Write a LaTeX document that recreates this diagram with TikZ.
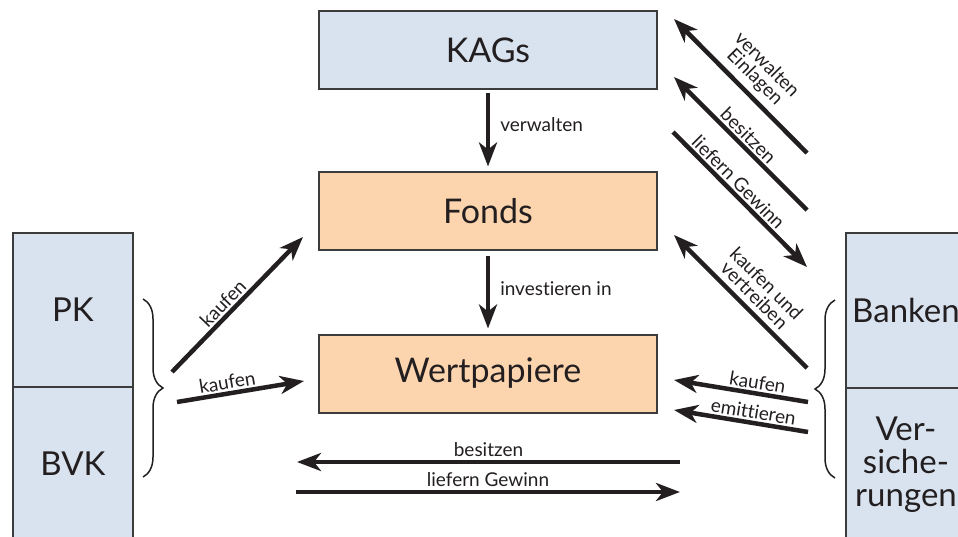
\documentclass[tikz,border=0pt]{standalone}
\usepackage{fontspec}
\setmainfont{Lato}[Ligatures=NoCommon]
\usetikzlibrary{arrows.meta,decorations.pathreplacing,calc}
\definecolor{boxblue}{RGB}{217,227,239}
\definecolor{boxorange}{RGB}{252,213,175}
\definecolor{ink}{RGB}{35,31,32}
\definecolor{frame}{RGB}{60,60,60}
\begin{document}
\begin{tikzpicture}[x=1pt,y=-1pt,
  box/.style={draw=frame,line width=2pt,minimum width=338pt,minimum height=78pt,inner sep=0pt,font=\fontsize{34}{36}\selectfont,text=ink},
  side/.style={draw=frame,line width=2pt,fill=boxblue,minimum width=120pt,minimum height=154pt,inner sep=0pt,font=\fontsize{33}{33}\selectfont,text=ink,align=center},
  arr/.style={draw=ink,line width=4.5pt,-{Stealth[length=24pt,width=18pt,inset=7pt]}},
  lbl/.style={font=\fontsize{19}{17}\selectfont,text=ink,inner sep=2pt},
  brc/.style={decorate,decoration={brace,amplitude=20pt},line width=1.5pt,draw=ink}]
\clip (0,0) rectangle (958,537);
\fill[white] (0,0) rectangle (958,537);
% main boxes
\node[box,fill=boxblue]   (kag)  at (488,50)    {KAGs};
\node[box,fill=boxorange] (fond) at (488,211.5) {Fonds};
\node[box,fill=boxorange] (wp)   at (488,373.5) {Wertpapiere};
% side boxes
\node[side] (pk)   at (73,310)  {PK};
\node[side] (bvk)  at (73,464)  {BVK};
\node[side] (bank) at (906,310.5) {Banken};
\node[side] (vers) at (906,464.5) {Ver-\\siche-\\rungen};
% braces
\coordinate (lbt) at (143,299);
\coordinate (lbb) at (143,477);
\draw[brc] (lbt) -- (lbb);
\coordinate (rbb) at (835,478);
\coordinate (rbt) at (835,300);
\draw[brc] (rbb) -- (rbt);
% vertical arrows
\draw[arr,shorten <=3pt,shorten >=5pt] (kag) -- node[lbl,right,xshift=8pt,pos=0.42]{verwalten} (fond);
\draw[arr,shorten <=5pt,shorten >=5pt] (fond) -- node[lbl,right,xshift=8pt,pos=0.45]{investieren in} (wp);
% bottom arrows
\coordinate (b1s) at (680,462);
\coordinate (b1e) at (297,462);
\draw[arr] (b1s) -- node[lbl,above,yshift=1pt]{besitzen} (b1e);
\coordinate (b2s) at (296,492);
\coordinate (b2e) at (680,492);
\draw[arr] (b2s) -- node[lbl,above,yshift=1pt]{liefern Gewinn} (b2e);
% left arrows
\coordinate (l1s) at (172,372);
\coordinate (l1e) at (303,237);
\draw[arr] (l1s) -- node[lbl,sloped,above,pos=0.45]{kaufen} (l1e);
\coordinate (l2s) at (177,402);
\coordinate (l2e) at (304,381);
\draw[arr] (l2s) -- node[lbl,sloped,above,pos=0.41]{kaufen} (l2e);
% right upper arrows
\coordinate (r1s) at (807,153);
\coordinate (r1e) at (674,19);
\draw[arr] (r1s) -- node[lbl,sloped,above=3pt,align=center,pos=0.48]{verwalten\\Einlagen} (r1e);
\coordinate (r2s) at (807,210);
\coordinate (r2e) at (674,77);
\draw[arr] (r2s) -- node[lbl,sloped,above,pos=0.5]{besitzen} (r2e);
\coordinate (r3s) at (673,132);
\coordinate (r3e) at (807,267);
\draw[arr] (r3s) -- node[lbl,sloped,above,pos=0.43]{liefern Gewinn} (r3e);
\coordinate (r4s) at (807,368);
\coordinate (r4e) at (674,235);
\draw[arr] (r4s) -- node[lbl,sloped,above=3pt,align=center,pos=0.47]{kaufen und\\vertreiben} (r4e);
\coordinate (r5s) at (808,402);
\coordinate (r5e) at (674,380);
\draw[arr] (r5s) -- node[lbl,sloped,above,pos=0.39]{kaufen} (r5e);
\coordinate (r6s) at (808,432);
\coordinate (r6e) at (674,410);
\draw[arr] (r6s) -- node[lbl,sloped,above,pos=0.42]{emittieren} (r6e);
\end{tikzpicture}
\end{document}
